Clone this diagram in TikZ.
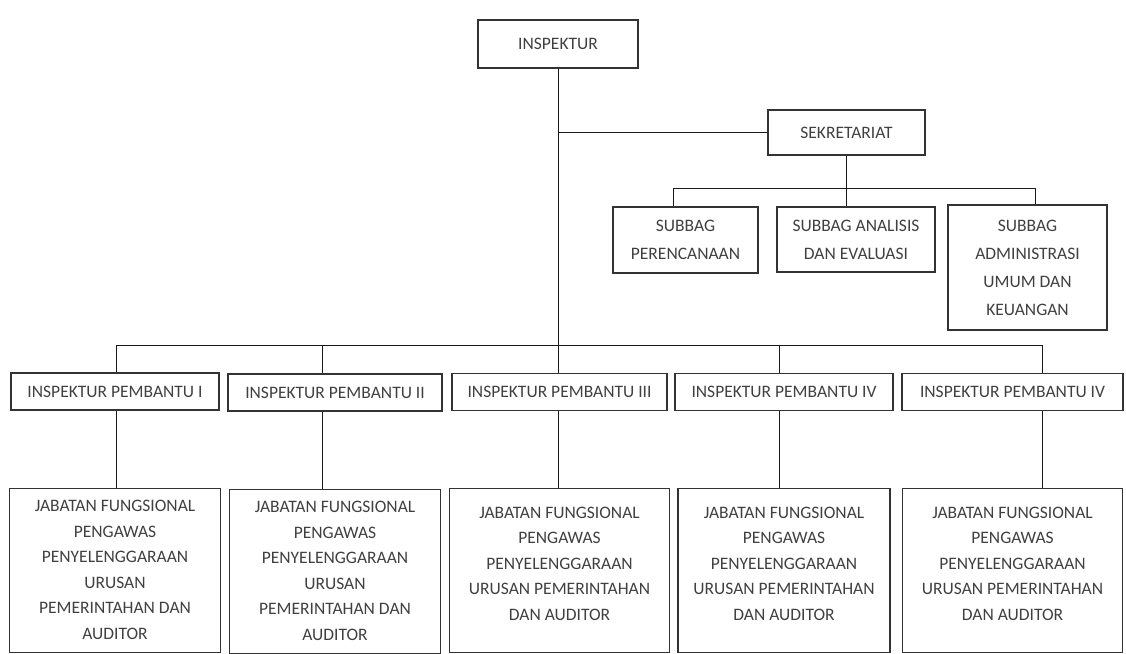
\documentclass[tikz,border=0pt]{standalone}
\usepackage{fontspec}
\setmainfont{Carlito}
\usepackage{tikz}
\usetikzlibrary{positioning}
\tikzset{
    unit/.style={draw=black!80, line width=1.1pt, rectangle, align=center, inner sep=2pt, text=black!75, font=\fontsize{17.5}{28}\selectfont},
    pembantu/.style={unit, minimum height=37pt},
    jabatan/.style={unit, minimum height=164pt, font=\fontsize{17.5}{25.5}\selectfont},
    link/.style={draw=black!90, line width=1pt}
}

\begin{document}
\begin{tikzpicture}[x=1pt, y=-1pt, node distance=77pt]
    \useasboundingbox (0,0) rectangle (1126,653);
    \node[unit, minimum width=160pt, minimum height=48pt] (inspektur) at (558,44) {INSPEKTUR};
    \node[unit, minimum width=157pt, minimum height=45pt] (sekretariat) at (846.5,132.5) {SEKRETARIAT};
    \node[unit, minimum width=145pt, minimum height=66pt] (perencanaan) at (685.5,240) {SUBBAG\\PERENCANAAN};
    \node[unit, minimum width=158pt, minimum height=65pt] (analisis) at (856,239.5) {SUBBAG ANALISIS\\DAN EVALUASI};
    \node[unit, minimum width=159pt, minimum height=125pt] (administrasi) at (1027.5,267.5) {SUBBAG\\ADMINISTRASI\\UMUM DAN\\KEUANGAN};

    \node[pembantu, minimum width=208pt] (pembantuI) at (115,391.5) {INSPEKTUR PEMBANTU I};
    \node[pembantu, minimum width=214pt] (pembantuII) at (335,392.5) {INSPEKTUR PEMBANTU II};
    \node[pembantu, minimum width=215pt] (pembantuIII) at (559.5,392) {INSPEKTUR PEMBANTU III};
    \node[pembantu, minimum width=218pt] (pembantuIV) at (784,392) {INSPEKTUR PEMBANTU IV};
    \node[pembantu, minimum width=221pt] (pembantuV) at (1012.5,392) {INSPEKTUR PEMBANTU IV};

    \node[jabatan, minimum width=211pt, below=77pt of pembantuI] (jabatanI) {JABATAN FUNGSIONAL\\PENGAWAS\\PENYELENGGARAAN\\URUSAN\\PEMERINTAHAN DAN\\AUDITOR};
    \node[jabatan, minimum width=211pt, below=77pt of pembantuII] (jabatanII) {JABATAN FUNGSIONAL\\PENGAWAS\\PENYELENGGARAAN\\URUSAN\\PEMERINTAHAN DAN\\AUDITOR};
    \node[jabatan, minimum width=220pt, below=77pt of pembantuIII, text depth=14pt] (jabatanIII) {JABATAN FUNGSIONAL\\PENGAWAS\\PENYELENGGARAAN\\URUSAN PEMERINTAHAN\\DAN AUDITOR};
    \node[jabatan, minimum width=212pt, below=77pt of pembantuIV, text depth=14pt] (jabatanIV) {JABATAN FUNGSIONAL\\PENGAWAS\\PENYELENGGARAAN\\URUSAN PEMERINTAHAN\\DAN AUDITOR};
    \node[jabatan, minimum width=220pt, below=77pt of pembantuV, text depth=14pt] (jabatanV) {JABATAN FUNGSIONAL\\PENGAWAS\\PENYELENGGARAAN\\URUSAN PEMERINTAHAN\\DAN AUDITOR};

    \coordinate (subL) at (673,188);
    \coordinate (subR) at (1035,188);
    \coordinate (busI) at (116,345);
    \coordinate (busII) at (322,345);
    \coordinate (busIV) at (779,345);
    \coordinate (busV) at (1042,345);

    \draw[link] (inspektur.south) -- (inspektur.south |- pembantuIII.north);
    \draw[link] (inspektur.south |- sekretariat.west) -- (sekretariat.west);
    \draw[link] (sekretariat.south) -- (sekretariat.south |- analisis.north);
    \draw[link] (subL |- perencanaan.north) -- (subL) -- (subR) -- (subR |- administrasi.north);
    \draw[link] (busI |- pembantuI.north) -- (busI) -- (busV) -- (busV |- pembantuV.north);
    \draw[link] (busII) -- (busII |- pembantuII.north);
    \draw[link] (busIV) -- (busIV |- pembantuIV.north);

    \draw[link] (busI |- pembantuI.south) -- (busI |- jabatanI.north);
    \draw[link] (busII |- pembantuII.south) -- (busII |- jabatanII.north);
    \draw[link] (inspektur.south |- pembantuIII.south) -- (inspektur.south |- jabatanIII.north);
    \draw[link] (busIV |- pembantuIV.south) -- (busIV |- jabatanIV.north);
    \draw[link] (busV |- pembantuV.south) -- (busV |- jabatanV.north);
\end{tikzpicture}
\end{document}
